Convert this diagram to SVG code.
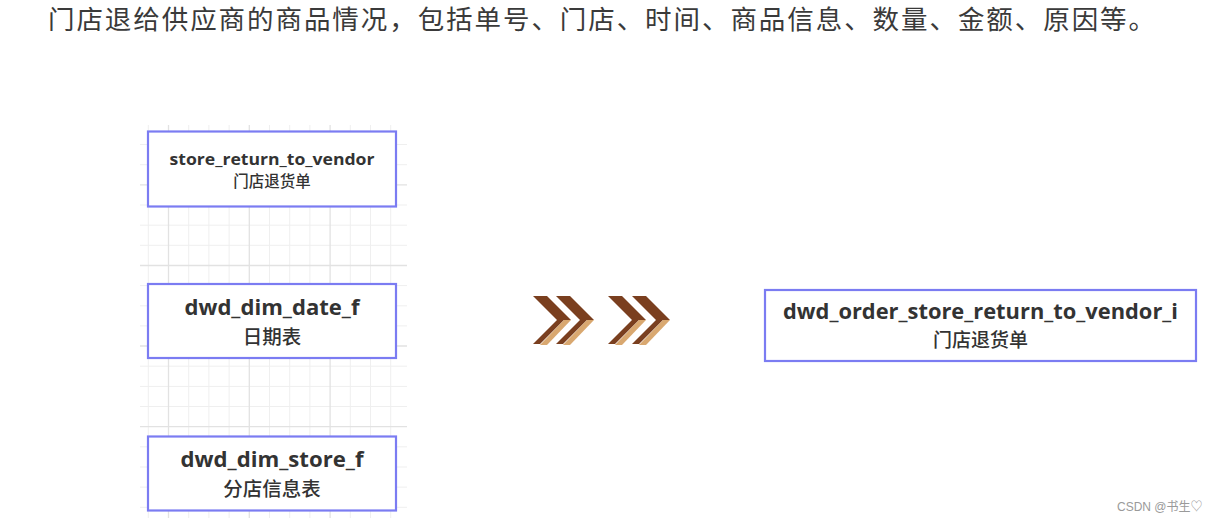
<svg xmlns="http://www.w3.org/2000/svg" width="1218" height="523" viewBox="0 0 1218 523">
  <style>
    .title { font-family: "Noto Sans CJK SC", sans-serif; font-size: 26.5px; fill: #3a3a3a; }
    .box { fill: #ffffff; stroke: #7b7cf2; stroke-width: 2.2; }
    .lbl { font-family: "Open Sans", "Noto Sans CJK SC", sans-serif; font-weight: 700; fill: #333333; text-anchor: middle; }
    .cjk { font-family: "Noto Sans CJK SC", sans-serif; font-weight: 500; fill: #333333; text-anchor: middle; }
    .g1 { stroke: #efefef; stroke-width: 1; }
    .g2 { stroke: #e2e2e2; stroke-width: 1.3; }
    .brown { fill: #7a3f1f; }
    .tan { fill: #d9a870; }
    .wm { font-family: "Liberation Sans", "Noto Sans CJK SC", sans-serif; font-size: 12px; fill: #9a9a9a; }
  </style>

  <rect x="0" y="0" width="1218" height="523" fill="#ffffff"/>

  <text class="title" x="48" y="29" textLength="1107" lengthAdjust="spacing">门店退给供应商的商品情况，包括单号、门店、时间、商品信息、数量、金额、原因等。</text>

  <g id="grid">
    <g class="g1">
      <line x1="148.3" y1="125" x2="148.3" y2="518"/>
      <line x1="188.7" y1="125" x2="188.7" y2="518"/>
      <line x1="208.9" y1="125" x2="208.9" y2="518"/>
      <line x1="229.1" y1="125" x2="229.1" y2="518"/>
      <line x1="269.5" y1="125" x2="269.5" y2="518"/>
      <line x1="289.7" y1="125" x2="289.7" y2="518"/>
      <line x1="309.9" y1="125" x2="309.9" y2="518"/>
      <line x1="350.3" y1="125" x2="350.3" y2="518"/>
      <line x1="370.5" y1="125" x2="370.5" y2="518"/>
      <line x1="390.7" y1="125" x2="390.7" y2="518"/>
      <line x1="140" y1="144.5" x2="407" y2="144.5"/>
      <line x1="140" y1="164.7" x2="407" y2="164.7"/>
      <line x1="140" y1="205" x2="407" y2="205"/>
      <line x1="140" y1="225.2" x2="407" y2="225.2"/>
      <line x1="140" y1="245.3" x2="407" y2="245.3"/>
      <line x1="140" y1="285.6" x2="407" y2="285.6"/>
      <line x1="140" y1="305.8" x2="407" y2="305.8"/>
      <line x1="140" y1="325.9" x2="407" y2="325.9"/>
      <line x1="140" y1="366.2" x2="407" y2="366.2"/>
      <line x1="140" y1="386.4" x2="407" y2="386.4"/>
      <line x1="140" y1="406.5" x2="407" y2="406.5"/>
      <line x1="140" y1="446.8" x2="407" y2="446.8"/>
      <line x1="140" y1="467" x2="407" y2="467"/>
      <line x1="140" y1="487.1" x2="407" y2="487.1"/>
      <line x1="140" y1="507.3" x2="407" y2="507.3"/>
    </g>
    <g class="g2">
      <line x1="168.5" y1="125" x2="168.5" y2="518"/>
      <line x1="249.3" y1="125" x2="249.3" y2="518"/>
      <line x1="330.1" y1="125" x2="330.1" y2="518"/>
      <line x1="140" y1="184.8" x2="407" y2="184.8"/>
      <line x1="140" y1="265.5" x2="407" y2="265.5"/>
      <line x1="140" y1="346" x2="407" y2="346"/>
      <line x1="140" y1="426.7" x2="407" y2="426.7"/>
    </g>
  </g>

  <g id="connectors">
    <g id="chevrons">
      <g transform="translate(0,0)">
        <polygon class="brown" points="533,296 547,296 571,320 557,320"/>
        <polygon class="brown" points="557,320 564,320 540,344 533,344"/>
        <polygon class="tan" points="564,320 571,320 547,345 540,345"/>
      </g>
      <g transform="translate(23,0)">
        <polygon class="brown" points="533,296 547,296 571,320 557,320"/>
        <polygon class="brown" points="557,320 564,320 540,344 533,344"/>
        <polygon class="tan" points="564,320 571,320 547,345 540,345"/>
      </g>
      <g transform="translate(75,0)">
        <polygon class="brown" points="533,296 547,296 571,320 557,320"/>
        <polygon class="brown" points="557,320 564,320 540,344 533,344"/>
        <polygon class="tan" points="564,320 571,320 547,345 540,345"/>
      </g>
      <g transform="translate(99,0)">
        <polygon class="brown" points="533,296 547,296 571,320 557,320"/>
        <polygon class="brown" points="557,320 564,320 540,344 533,344"/>
        <polygon class="tan" points="564,320 571,320 547,345 540,345"/>
      </g>
    </g>
  </g>

  <g id="node-store-return-to-vendor">
    <rect class="box" x="148" y="131.5" width="248" height="75"/>
    <text class="lbl" x="272" y="165" font-size="16" textLength="205" lengthAdjust="spacingAndGlyphs">store_return_to_vendor</text>
    <text class="cjk" x="272" y="187" font-size="15.5">门店退货单</text>
  </g>

  <g id="node-dwd-dim-date-f">
    <rect class="box" x="148" y="284" width="248" height="74"/>
    <text class="lbl" x="272" y="315" font-size="21" textLength="175" lengthAdjust="spacingAndGlyphs">dwd_dim_date_f</text>
    <text class="cjk" x="272" y="344" font-size="19.5">日期表</text>
  </g>

  <g id="node-dwd-dim-store-f">
    <rect class="box" x="148" y="436.5" width="248" height="74"/>
    <text class="lbl" x="272" y="467" font-size="21" textLength="183" lengthAdjust="spacingAndGlyphs">dwd_dim_store_f</text>
    <text class="cjk" x="272" y="496" font-size="19.5">分店信息表</text>
  </g>

  <g id="node-dwd-order-store-return-to-vendor-i">
    <rect class="box" x="765" y="290" width="431" height="71"/>
    <text class="lbl" x="980.5" y="319" font-size="21" textLength="395" lengthAdjust="spacingAndGlyphs">dwd_order_store_return_to_vendor_i</text>
    <text class="cjk" x="980.5" y="347" font-size="19">门店退货单</text>
  </g>

  <text class="wm" x="1117" y="511">CSDN @书生♡</text>
</svg>
